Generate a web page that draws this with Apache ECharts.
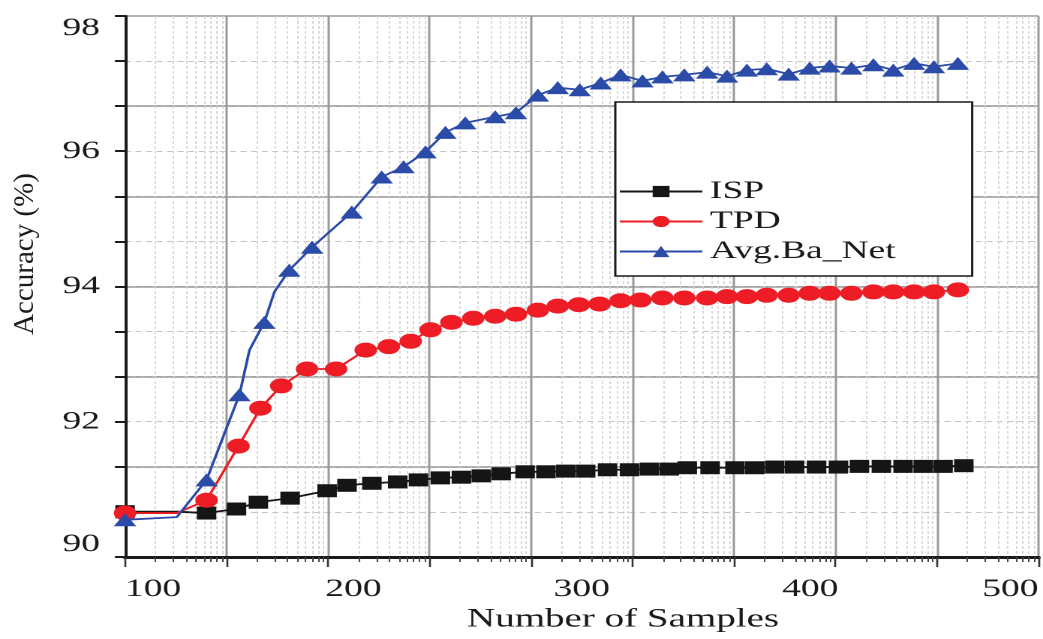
<!DOCTYPE html>
<html><head><meta charset="utf-8">
<script src="https://cdn.jsdelivr.net/npm/echarts@6/dist/echarts.min.js"></script>
<style>
html,body{margin:0;padding:0;background:#fff;overflow:hidden;width:1043px;height:639px}
#c{width:695px;height:639px;transform:scaleX(1.50072);transform-origin:0 0;}
</style></head><body><div id="c"></div>
<script>
// ---- data ----
const seriesNames = ['ISP', 'TPD', 'Avg.Ba_Net'];
const xTickLabels = [100, 200, 300, 400, 500];
const yTickLabels = [90, 92, 94, 96, 98];

const ispX = [100, 122.7, 135.7, 148.8, 158.4, 172.3, 188.5, 197.2, 208.1, 219.4, 228.5, 238.1, 247.3, 256.0, 264.7, 275.2, 284.3, 293.0, 301.7, 311.3, 320.9, 329.6, 338.3, 346.2, 356.2, 367.1, 375.8, 384.5, 393.2, 402.8, 412.4, 421.6, 431.2, 440.7, 449.5, 458.2, 467.3];
const ispY = [90.67, 90.67, 90.65, 90.71, 90.81, 90.87, 90.98, 91.06, 91.09, 91.11, 91.14, 91.17, 91.18, 91.20, 91.23, 91.26, 91.26, 91.27, 91.27, 91.29, 91.29, 91.30, 91.30, 91.32, 91.32, 91.32, 91.32, 91.33, 91.33, 91.33, 91.33, 91.34, 91.34, 91.34, 91.34, 91.34, 91.35];
const ispLineOnly = [1];

const tpdX = [100, 122.7, 135.7, 149.7, 159.3, 168.4, 179.7, 192.4, 205.4, 215.5, 225.1, 233.8, 242.9, 252.5, 262.1, 271.2, 280.8, 289.5, 298.7, 307.8, 317.0, 325.7, 335.3, 344.9, 354.9, 363.6, 372.3, 381.0, 390.6, 399.8, 408.5, 418.1, 427.7, 436.4, 445.5, 454.2, 464.7];
const tpdY = [90.65, 90.65, 90.84, 91.64, 92.20, 92.53, 92.78, 92.78, 93.06, 93.11, 93.19, 93.36, 93.47, 93.53, 93.56, 93.59, 93.65, 93.71, 93.73, 93.74, 93.79, 93.80, 93.83, 93.83, 93.83, 93.85, 93.85, 93.87, 93.87, 93.90, 93.90, 93.90, 93.92, 93.92, 93.92, 93.92, 93.95];
const tpdLineOnly = [1];

const avgX = [100, 122.7, 135.7, 150.1, 154.5, 161.0, 165.4, 171.9, 181.9, 199.3, 212.4, 222.0, 231.6, 240.3, 249.0, 262.1, 271.2, 280.8, 289.5, 299.1, 308.3, 317.0, 326.6, 335.3, 344.9, 354.9, 363.6, 372.3, 381.0, 390.6, 399.8, 408.5, 418.1, 427.7, 436.4, 445.5, 454.2, 464.7];
const avgY = [90.55, 90.59, 91.14, 92.40, 93.06, 93.47, 93.92, 94.24, 94.58, 95.10, 95.62, 95.77, 95.99, 96.28, 96.42, 96.51, 96.57, 96.83, 96.94, 96.91, 97.01, 97.13, 97.04, 97.10, 97.13, 97.17, 97.11, 97.20, 97.22, 97.14, 97.23, 97.26, 97.23, 97.28, 97.20, 97.30, 97.25, 97.30];
const avgLineOnly = [1, 4, 6];

// ---- chart ----
function build(xs, ys, lineOnly) {
  return xs.map((x, i) => lineOnly.indexOf(i) >= 0 ? { value: [x, ys[i]], symbol: 'none' } : [x, ys[i]]);
}
const FONT = 'Liberation Serif';
const chart = echarts.init(document.getElementById('c'), null, { renderer: 'canvas', devicePixelRatio: 2 });
const yFmt = v => { const r = Math.round(v); return (Math.abs(v - r) < 1e-6 && yTickLabels.indexOf(r) >= 0) ? String(r) : ''; };
const xFmt = v => { const r = Math.round(v); return xTickLabels.indexOf(r) >= 0 ? String(r) : ''; };

chart.setOption({
  animation: false,
  backgroundColor: '#fff',
  grid: { left: 83.3, right: 0, top: 16, bottom: 82, containLabel: false },
  xAxis: [
    {
      type: 'value', min: 100, max: 500, interval: 100, position: 'bottom',
      name: 'Number of Samples', nameLocation: 'middle', nameGap: 31,
      nameTextStyle: { fontFamily: FONT, fontSize: 26, color: '#1a1a1a', padding: [0, 0, 0, 55] },
      axisLine: { show: true, lineStyle: { color: '#1a1a1a', width: 3 } },
      axisTick: { show: false },
      splitLine: { show: false },
      axisLabel: { formatter: xFmt, fontFamily: FONT, fontSize: 25, color: '#1a1a1a', margin: 20,
        alignMinLabel: 'left', alignMaxLabel: 'right' }
    },
    {
      type: 'log', logBase: 10, min: 1, max: 1e9, splitNumber: 9, position: 'bottom',
      axisLine: { show: false },
      axisLabel: { show: false },
      axisTick: { show: true, inside: false, length: 10, lineStyle: { color: '#333', width: 1.3 } },
      minorTick: { show: true, splitNumber: 9, length: 5, lineStyle: { color: '#444', width: 1 } },
      splitLine: { show: true, lineStyle: { color: '#9a9a9a', width: 1.5 } },
      minorSplitLine: { show: true, lineStyle: { color: '#d0d0d0', width: 0.8, type: [3, 2] } }
    }
  ],
  yAxis: [
    {
      type: 'value', min: 90, max: 98, interval: 2 / 3, position: 'left',
      axisLine: { show: true, lineStyle: { color: '#1a1a1a', width: 2 } },
      axisTick: { show: true, inside: false, length: 6.7, lineStyle: { color: '#1a1a1a', width: 2 } },
      splitLine: { show: true, showMaxLine: false, showMinLine: false, lineStyle: { color: '#c4c4c4', width: 1, type: [4, 3] } },
      axisLabel: { formatter: yFmt, fontFamily: FONT, fontSize: 25, color: '#1a1a1a', margin: 16.7,
        verticalAlignMinLabel: 'bottom', verticalAlignMaxLabel: 'top' }
    },
    {
      type: 'value', min: 90, max: 98, interval: 4 / 3, position: 'left',
      axisLine: { show: false }, axisTick: { show: false }, axisLabel: { show: false },
      splitLine: { show: true, showMaxLine: false, showMinLine: false, lineStyle: { color: '#9a9a9a', width: 1.5 } }
    }
  ],
  legend: {
    orient: 'vertical', left: 410, top: 102, padding: [77, 51, 12, 2],
    itemWidth: 55, itemHeight: 14, itemGap: 5,
    backgroundColor: '#fff', borderColor: '#1a1a1a', borderWidth: 1.5, borderRadius: 0,
    textStyle: { fontFamily: FONT, fontSize: 25, color: '#1a1a1a', lineHeight: 25 },
    selectedMode: false, data: seriesNames
  },
  graphic: [{
    type: 'text', x: 16.7, y: 254, rotation: Math.PI / 2, scaleY: 1 / 1.50072, z: 10,
    style: { text: 'Accuracy (%)', font: '29px "Liberation Serif"', fill: '#1a1a1a',
      textAlign: 'center', textVerticalAlign: 'middle', align: 'center', verticalAlign: 'middle' }
  }],
  series: [
    { name: seriesNames[0], type: 'line', xAxisIndex: 0, yAxisIndex: 0, data: build(ispX, ispY, ispLineOnly),
      symbol: 'rect', symbolSize: [13, 13], lineStyle: { color: '#151515', width: 1.8 }, itemStyle: { color: '#151515' }, z: 3 },
    { name: seriesNames[1], type: 'line', xAxisIndex: 0, yAxisIndex: 0, data: build(tpdX, tpdY, tpdLineOnly),
      symbol: 'circle', symbolSize: [15, 15], lineStyle: { color: '#ee1c24', width: 1.8 }, itemStyle: { color: '#ee1c24' }, z: 4 },
    { name: seriesNames[2], type: 'line', xAxisIndex: 0, yAxisIndex: 0, data: build(avgX, avgY, avgLineOnly),
      symbol: 'triangle', symbolSize: [15, 13], lineStyle: { color: '#2b4ba8', width: 1.8 }, itemStyle: { color: '#2b4ba8' }, z: 5 }
  ]
});
</script></body></html>
